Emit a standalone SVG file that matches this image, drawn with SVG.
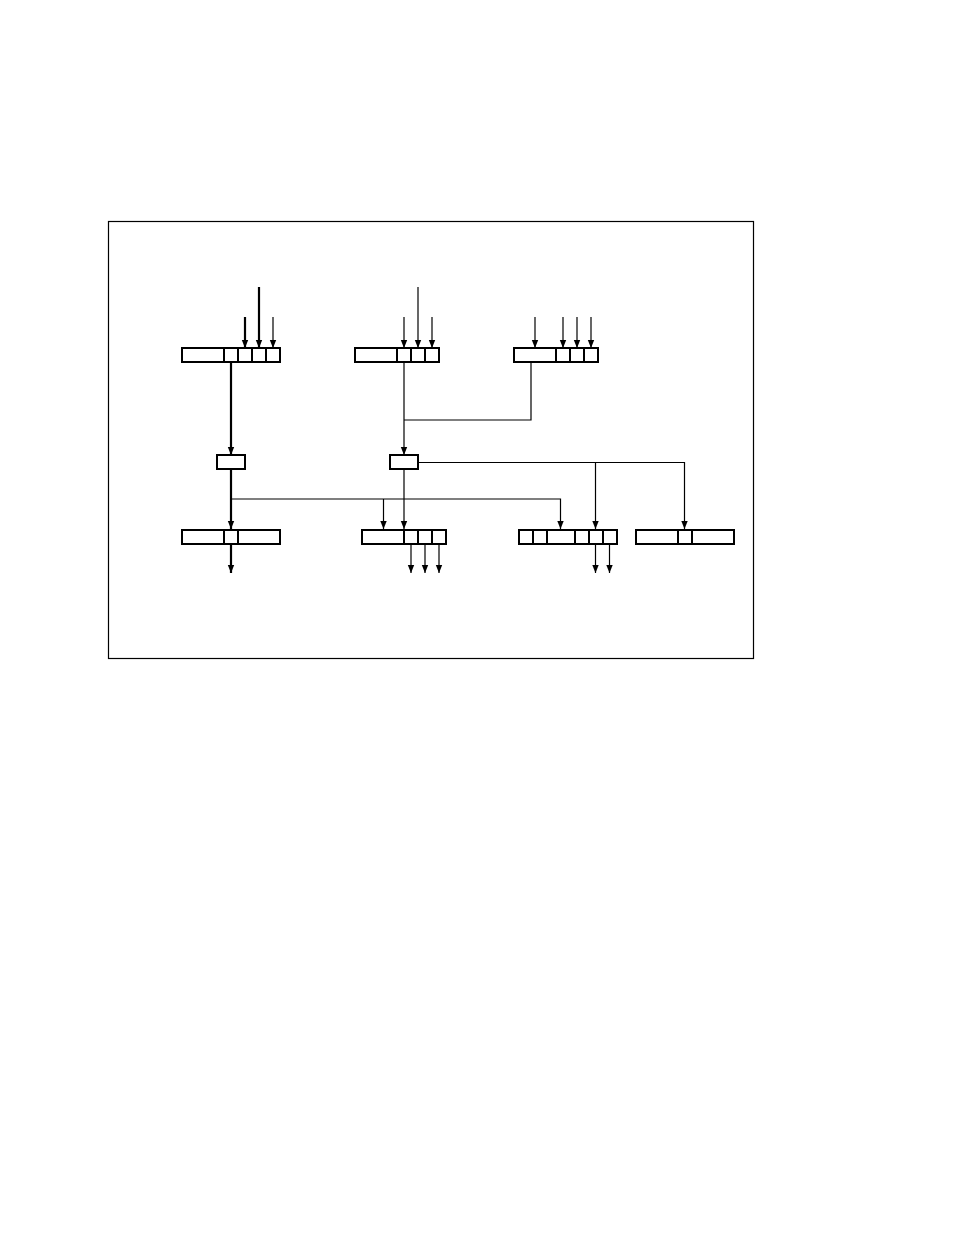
<svg xmlns="http://www.w3.org/2000/svg" width="954" height="1235" viewBox="0 0 954 1235">
<style>
.box{fill:#fff;stroke:#000;stroke-width:2}
.div{stroke:#000;stroke-width:2;fill:none}
.thin{stroke:#000;stroke-width:1.2;fill:none}
.thick{stroke:#000;stroke-width:2.2;fill:none}
</style>
<defs>
<marker id="ah" markerUnits="userSpaceOnUse" markerWidth="10" markerHeight="10" refX="8" refY="3.5" orient="auto">
<path d="M0,0.3 L8,3.5 L0,6.7 z" fill="#000"/>
</marker>
</defs>
<rect width="954" height="1235" fill="#fff"/>
<rect id="frame" x="108.5" y="221.5" width="645" height="437" fill="none" stroke="#000" stroke-width="1.2"/>

<g id="connectors">
<line class="thick" x1="245" y1="317" x2="245" y2="348" marker-end="url(#ah)"/>
<line class="thick" x1="259" y1="287" x2="259" y2="348" marker-end="url(#ah)"/>
<line class="thin" x1="273" y1="317" x2="273" y2="348" marker-end="url(#ah)"/>
<line class="thin" x1="404" y1="317" x2="404" y2="348" marker-end="url(#ah)"/>
<line class="thin" x1="418" y1="287" x2="418" y2="348" marker-end="url(#ah)"/>
<line class="thin" x1="432" y1="317" x2="432" y2="348" marker-end="url(#ah)"/>
<line class="thin" x1="535" y1="317" x2="535" y2="348" marker-end="url(#ah)"/>
<line class="thin" x1="563" y1="317" x2="563" y2="348" marker-end="url(#ah)"/>
<line class="thin" x1="577" y1="317" x2="577" y2="348" marker-end="url(#ah)"/>
<line class="thin" x1="591" y1="317" x2="591" y2="348" marker-end="url(#ah)"/>
<line class="thick" x1="231" y1="362" x2="231" y2="455" marker-end="url(#ah)"/>
<polyline class="thin" points="531,362 531,420 404,420"/>
<line class="thin" x1="404" y1="362" x2="404" y2="455" marker-end="url(#ah)"/>
<line class="thick" x1="231" y1="469" x2="231" y2="529" marker-end="url(#ah)"/>
<polyline class="thin" points="231,499 560.5,499 560.5,529" marker-end="url(#ah)"/>
<line class="thin" x1="383.5" y1="499" x2="383.5" y2="529" marker-end="url(#ah)"/>
<line class="thin" x1="404" y1="469" x2="404" y2="529" marker-end="url(#ah)"/>
<polyline class="thin" points="418,462.5 684.5,462.5 684.5,529" marker-end="url(#ah)"/>
<line class="thin" x1="595.5" y1="462.5" x2="595.5" y2="529" marker-end="url(#ah)"/>
<line class="thick" x1="231" y1="544" x2="231" y2="573" marker-end="url(#ah)"/>
<line class="thin" x1="411" y1="544" x2="411" y2="573" marker-end="url(#ah)"/>
<line class="thin" x1="425" y1="544" x2="425" y2="573" marker-end="url(#ah)"/>
<line class="thin" x1="439" y1="544" x2="439" y2="573" marker-end="url(#ah)"/>
<line class="thin" x1="595.5" y1="544" x2="595.5" y2="573" marker-end="url(#ah)"/>
<line class="thin" x1="609.5" y1="544" x2="609.5" y2="573" marker-end="url(#ah)"/>
</g>

<g id="top-left">
<rect class="box" x="182" y="348" width="98" height="14"/>
<path class="div" d="M224,348V362M238,348V362M252,348V362M266,348V362"/>
</g>
<g id="top-middle">
<rect class="box" x="355" y="348" width="84" height="14"/>
<path class="div" d="M397,348V362M411,348V362M425,348V362"/>
</g>
<g id="top-right">
<rect class="box" x="514" y="348" width="84" height="14"/>
<path class="div" d="M556,348V362M570,348V362M584,348V362"/>
</g>
<g id="mid-left">
<rect class="box" x="217" y="455" width="28" height="14"/>
</g>
<g id="mid-middle">
<rect class="box" x="390" y="455" width="28" height="14"/>
</g>
<g id="bottom-1">
<rect class="box" x="182" y="530" width="98" height="14"/>
<path class="div" d="M224,530V544M238,530V544"/>
</g>
<g id="bottom-2">
<rect class="box" x="362" y="530" width="84" height="14"/>
<path class="div" d="M404,530V544M418,530V544M432,530V544"/>
</g>
<g id="bottom-3">
<rect class="box" x="519" y="530" width="98" height="14"/>
<path class="div" d="M533,530V544M547,530V544M575,530V544M589,530V544M603,530V544"/>
</g>
<g id="bottom-4">
<rect class="box" x="636" y="530" width="98" height="14"/>
<path class="div" d="M678,530V544M692,530V544"/>
</g>
</svg>
